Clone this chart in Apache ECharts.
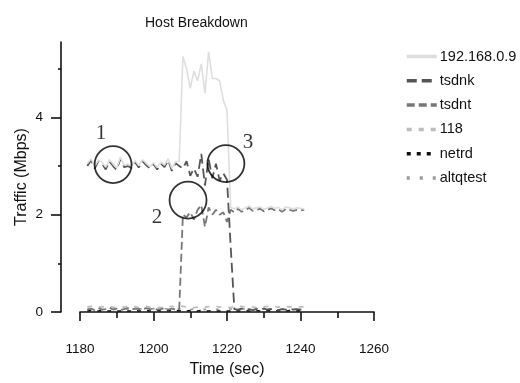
<!DOCTYPE html>
<html>
<head>
<meta charset="utf-8">
<script src="https://cdn.jsdelivr.net/npm/echarts@6/dist/echarts.min.js"></script>
<style>
  html, body { margin: 0; padding: 0; background: #fff; }
  #chart { width: 520px; height: 383px; }
</style>
</head>
<body>
<div id="chart"></div>
<script>
// time axis, one sample per second
var times = [];
for (var t = 1182; t <= 1241; t++) { times.push(t); }

// traffic in Mbps
var host = [3.05, 3.15, 3.0, 3.12, 3.08, 2.98, 3.13, 3.04, 2.96, 3.18,
            3.02, 3.04, 3.0, 3.11, 3.01, 3.13, 3.06, 2.99, 3.07, 2.97,
            3.08, 3.02, 3.15, 2.95, 3.09, 3.1, 5.25, 5.0, 4.6, 4.95,
            4.75, 5.1, 4.5, 5.35, 4.8, 4.8, 4.75, 4.35, 4.15, 2.15,
            2.12, 2.16, 2.1, 2.14, 2.18, 2.12, 2.14, 2.16, 2.11, 2.14,
            2.17, 2.13, 2.15, 2.1, 2.16, 2.14, 2.12, 2.14, 2.13, 2.12];
var tsdnk = [3.0, 3.12, 2.95, 3.1, 3.05, 2.93, 3.1, 3.0, 2.92, 3.15,
             2.98, 3.0, 2.96, 3.08, 2.97, 3.1, 3.02, 2.95, 3.04, 2.93,
             3.05, 2.98, 3.12, 2.9, 3.06, 3.0, 2.95, 3.1, 2.8, 2.95,
             2.78, 3.25, 2.6, 3.15, 2.75, 3.05, 2.7, 2.85, 2.72, 1.35,
             0.06, 0.05, 0.07, 0.05, 0.06, 0.04, 0.06, 0.05, 0.07, 0.05,
             0.06, 0.05, 0.04, 0.06, 0.05, 0.07, 0.05, 0.06, 0.05, 0.06];
var tsdnt = [0.05, 0.07, 0.04, 0.08, 0.05, 0.06, 0.09, 0.05, 0.07, 0.04,
             0.06, 0.08, 0.05, 0.07, 0.06, 0.05, 0.08, 0.06, 0.07, 0.05,
             0.06, 0.08, 0.05, 0.07, 0.05, 0.05, 2.0, 1.95, 2.05, 1.9,
             2.1, 2.2, 1.75, 2.15, 2.0, 2.1, 2.0, 2.05, 1.85, 2.1,
             2.05, 2.12, 2.06, 2.1, 2.14, 2.08, 2.1, 2.12, 2.07, 2.1,
             2.13, 2.09, 2.11, 2.06, 2.12, 2.1, 2.08, 2.1, 2.09, 2.1];
var s118 = [0.1, 0.12, 0.09, 0.1, 0.11, 0.1, 0.12, 0.1, 0.09, 0.11,
            0.1, 0.12, 0.1, 0.11, 0.09, 0.1, 0.12, 0.1, 0.11, 0.1,
            0.09, 0.11, 0.1, 0.12, 0.1, 0.11, 0.12, 0.1, 0.11, 0.09,
            0.1, 0.12, 0.1, 0.11, 0.1, 0.12, 0.1, 0.11, 0.1, 0.09,
            0.11, 0.1, 0.12, 0.1, 0.11, 0.1, 0.09, 0.11, 0.1, 0.12,
            0.1, 0.11, 0.1, 0.12, 0.1, 0.11, 0.1, 0.09, 0.11, 0.1];
var netrd = [0.02, 0.03, 0.02, 0.02, 0.03, 0.02, 0.02, 0.03, 0.02, 0.02,
             0.03, 0.02, 0.02, 0.03, 0.02, 0.02, 0.03, 0.02, 0.02, 0.03,
             0.02, 0.02, 0.03, 0.02, 0.02, 0.03, 0.02, 0.02, 0.03, 0.02,
             0.02, 0.03, 0.02, 0.02, 0.03, 0.02, 0.02, 0.03, 0.02, 0.02,
             0.03, 0.02, 0.02, 0.03, 0.02, 0.02, 0.03, 0.02, 0.02, 0.03,
             0.02, 0.02, 0.03, 0.02, 0.02, 0.03, 0.02, 0.02, 0.03, 0.02];
var altqtest = [0.06, 0.05, 0.07, 0.06, 0.05, 0.06, 0.07, 0.06, 0.05, 0.06,
                0.07, 0.06, 0.05, 0.06, 0.07, 0.06, 0.05, 0.06, 0.07, 0.06,
                0.05, 0.06, 0.07, 0.06, 0.05, 0.06, 0.07, 0.06, 0.05, 0.06,
                0.07, 0.06, 0.05, 0.06, 0.07, 0.06, 0.05, 0.06, 0.07, 0.06,
                0.05, 0.06, 0.07, 0.06, 0.05, 0.06, 0.07, 0.06, 0.05, 0.06,
                0.07, 0.06, 0.05, 0.06, 0.07, 0.06, 0.05, 0.06, 0.07, 0.06];

// numbered circles drawn over the plot: [time, Mbps]
var marks = ['1', '2', '3'];
var markPos = [[1189, 3.03], [1209.4, 2.3], [1219.7, 3.05]];
var markLabelOffset = [[-12, -31], [-31, 17], [22, -21]];

var xMajor = [1180, 1200, 1220, 1240, 1260];
var xMinor = [1190, 1210, 1230, 1250];
var yMajor = [0, 2, 4];
var yMinor = [1, 3, 5];

var seriesNames = ['192.168.0.9', 'tsdnk', 'tsdnt', '118', 'netrd', 'altqtest'];
var seriesData = [host, tsdnk, tsdnt, s118, netrd, altqtest];
var seriesColor = ['#dedede', '#555555', '#777777', '#bdbdbd', '#111111', '#9a9a9a'];
var seriesDash = ['solid', [10, 5], [8, 4], [5, 7], [4, 6], [3, 10]];
var seriesWidth = [1.6, 1.8, 1.8, 1.6, 1.6, 1.6];

function pairs(arr) {
    return arr.map(function (v, i) { return [times[i], v]; });
}

var series = [];
for (var i = 0; i < seriesNames.length; i++) {
    series.push({
        name: seriesNames[i],
        type: 'line',
        data: pairs(seriesData[i]),
        showSymbol: false,
        symbol: 'none',
        z: 10 - i,
        color: seriesColor[i],
        lineStyle: { color: seriesColor[i], width: seriesWidth[i], type: seriesDash[i] }
    });
}

series.push({
    type: 'scatter',
    symbol: 'circle',
    symbolSize: 37,
    z: 20,
    silent: true,
    itemStyle: { color: 'rgba(0,0,0,0)', borderColor: '#000', borderWidth: 1.8 },
    label: {
        show: true,
        formatter: '{b}',
        fontFamily: 'Liberation Serif',
        fontSize: 21,
        color: '#000'
    },
    data: marks.map(function (m, i) {
        return { name: m, value: markPos[i], label: { offset: markLabelOffset[i] } };
    })
});

var font = 'Liberation Sans';
var plain = function (v) { return String(v); };
var chart = echarts.init(document.getElementById('chart'));
chart.setOption({
    animation: false,
    backgroundColor: '#fff',
    title: {
        text: 'Host Breakdown',
        left: 140,
        top: 11,
        textStyle: { fontFamily: font, fontSize: 14, fontWeight: 'normal', color: '#111' }
    },
    legend: {
        orient: 'vertical',
        left: 400,
        top: 44,
        itemWidth: 30,
        itemHeight: 14,
        itemGap: 9.3,
        data: seriesNames,
        itemStyle: { opacity: 0 },
        lineStyle: { width: 3.5 },
        textStyle: { fontFamily: font, fontSize: 14.5, color: '#111', padding: [0, 0, 0, -2] }
    },
    grid: { left: 80, right: 146, top: 42, bottom: 70, containLabel: false },
    xAxis: [{
        type: 'value', min: 1180, max: 1260, offset: 18, position: 'bottom',
        name: 'Time (sec)', nameLocation: 'middle', nameGap: 32, nameMoveOverlap: false,
        nameTextStyle: { fontFamily: font, fontSize: 16, color: '#111' },
        axisLine: { show: true, lineStyle: { color: '#111', width: 1.6 } },
        axisTick: { show: true, length: 9, customValues: xMajor, lineStyle: { color: '#111', width: 1.6 } },
        axisLabel: { customValues: xMajor, formatter: plain, margin: 12, fontFamily: font, fontSize: 13.5, color: '#111' },
        splitLine: { show: false }
    }, {
        type: 'value', min: 1180, max: 1260, offset: 18, position: 'bottom',
        axisLine: { show: false },
        axisTick: { show: true, length: 6, customValues: xMinor, lineStyle: { color: '#111', width: 1.6 } },
        axisLabel: { show: false },
        splitLine: { show: false }
    }],
    yAxis: [{
        type: 'value', min: 0, max: 5.55, offset: 19, position: 'left',
        name: 'Traffic (Mbps)', nameLocation: 'middle', nameGap: 31, nameMoveOverlap: false,
        nameTextStyle: { fontFamily: font, fontSize: 16, color: '#111' },
        axisLine: { show: true, lineStyle: { color: '#111', width: 1.6 } },
        axisTick: { show: true, length: 10, customValues: yMajor, lineStyle: { color: '#111', width: 1.6 } },
        axisLabel: { customValues: yMajor, formatter: plain, margin: 18, fontFamily: font, fontSize: 13.5, color: '#111' },
        splitLine: { show: false }
    }, {
        type: 'value', min: 0, max: 5.55, offset: 19, position: 'left',
        axisLine: { show: false },
        axisTick: { show: true, length: 3, customValues: yMinor, lineStyle: { color: '#111', width: 1.6 } },
        axisLabel: { show: false },
        splitLine: { show: false }
    }],
    series: series
});
</script>
</body>
</html>
